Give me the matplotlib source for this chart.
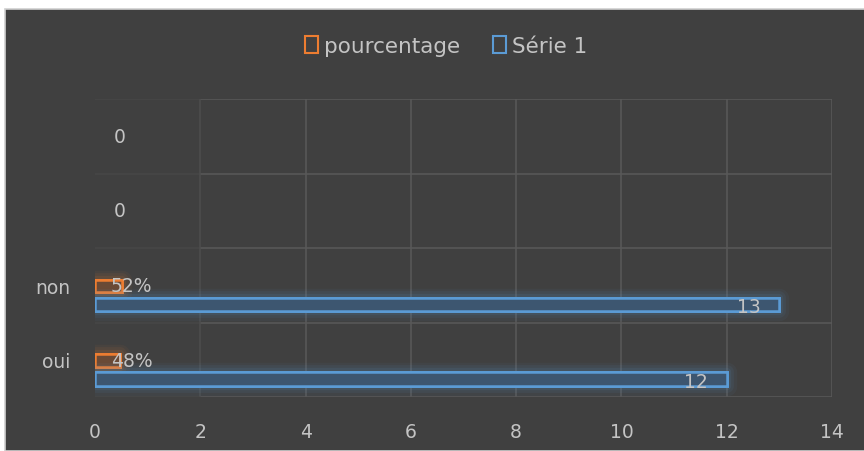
import matplotlib
matplotlib.use("Agg")
import matplotlib.pyplot as plt
import matplotlib.patheffects as pe
from matplotlib.patches import Patch, Rectangle

categories = ["oui", "non", "", ""]
pourcentage = [0.48, 0.52, 0, 0]
serie1 = [12, 13, 0, 0]
pct_labels = ["48%", "52%", "", ""]
empty_labels = ["", "", "0", "0"]
xticks = [0, 2, 4, 6, 8, 10, 12, 14]

orange = "#ED7D31"
blue = "#5B9BD5"
txt = "#c4c4c4"
bg = "#404040"
gridc = "#585858"
faint = "#474747"

plt.rcParams["font.family"] = ["DejaVu Sans"]

fig = plt.figure(figsize=(8.64, 4.52), dpi=100)
fig.patch.set_facecolor("white")
fig.patches.append(Rectangle((5 / 864, 0), 1, 1 - 10 / 452, transform=fig.transFigure,
                             facecolor=bg, edgecolor="#d0d0d0", lw=1.2, zorder=-10))

ax = fig.add_axes([95 / 864, 1 - 398 / 452, (832 - 95) / 864, (398 - 100) / 452])
ax.set_facecolor(bg)

y = list(range(len(categories)))
y_or = [v - 0.01 for v in y]
y_bl = [v - 0.26 for v in y]


def glow(c):
    fx = [pe.withStroke(linewidth=w, foreground=c, alpha=a, joinstyle="round")
          for w, a in [(14, 0.05), (10, 0.07), (6, 0.10)]]
    return fx + [pe.Normal()]


bo = ax.barh(y_or[:2], pourcentage[:2], height=0.17, facecolor="#6a4a36",
             edgecolor=orange, lw=1.8, zorder=3)
bb = ax.barh(y_bl[:2], serie1[:2], height=0.18, facecolor="#3d5670",
             edgecolor=blue, lw=1.8, zorder=3)
for r in bo:
    r.set_path_effects(glow(orange))
for r in bb:
    r.set_path_effects(glow(blue))

fs = 13.5
for i in range(2):
    ax.text(0.3, y_or[i], pct_labels[i], color=txt, fontsize=fs, va="center", ha="left", zorder=5)
    ax.text(serie1[i] - 0.36, y_bl[i] - 0.03, str(serie1[i]), color=txt, fontsize=fs,
            va="center", ha="right", zorder=5)
for i in range(2, 4):
    ax.text(0.47, y[i], empty_labels[i], color=txt, fontsize=fs, va="center", ha="center")

ax.set_xlim(0, 14)
ax.set_ylim(-0.5, 3.5)
ax.set_xticks(xticks)
ax.set_xticklabels([str(t) for t in xticks])
ax.set_yticks(y)
ax.set_yticklabels(categories)
ax.tick_params(axis="both", which="both", length=0, colors=txt, labelsize=fs)
ax.tick_params(axis="x", pad=18)
ax.tick_params(axis="y", pad=18)
for s in ax.spines.values():
    s.set_visible(False)

# grid: lines fade out near the left edge
bounds = [-0.5, 0.5, 1.5, 2.5, 3.5]
ax.hlines(bounds, 2, 14, color=gridc, lw=1.2, zorder=0)
ax.hlines(bounds, 0, 2, color=faint, lw=1.2, zorder=0)
ax.vlines(xticks[2:], -0.5, 3.5, color=gridc, lw=1.2, zorder=0)
ax.vlines(xticks[1], -0.5, 3.5, color="#4d4d4d", lw=1.2, zorder=0)

handles = [Patch(facecolor="none", edgecolor=orange, lw=1.5, label="pourcentage"),
           Patch(facecolor="none", edgecolor=blue, lw=1.5, label="Série 1")]
fig.legend(handles=handles, loc="center", bbox_to_anchor=(446 / 864, 1 - 47 / 452), ncol=2,
           frameon=False, fontsize=15.5, labelcolor=txt, handlelength=0.6, handleheight=0.85,
           handletextpad=0.3, columnspacing=1.5)

fig.savefig("out.png", dpi=100, facecolor=fig.get_facecolor())
